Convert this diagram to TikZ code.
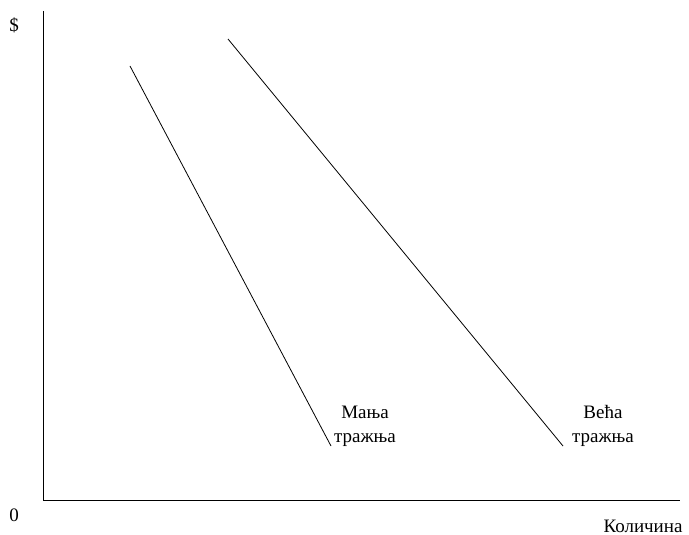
\documentclass[tikz,border=0pt]{standalone}
\usepackage{fontspec}
\setmainfont{Liberation Serif}
\begin{document}
\begin{tikzpicture}[x=1pt,y=-1pt,
  axis/.style={draw=black,line width=0.9pt},
  curve/.style={draw=black,line width=0.8pt},
  lbl/.style={font=\fontsize{19}{24}\selectfont,inner sep=0pt,align=center}]
\useasboundingbox (0,0) rectangle (689,535);
\coordinate (ytop) at (43,11);
\coordinate (orig) at (43,500);
\coordinate (xend) at (680,500);
\draw[axis] (ytop) -- (orig) -- (xend);
\node[lbl] (dollar) at (14,25) {\$};
\node[lbl] (zero) at (14,515) {0};
\node[lbl] (qty) at (643,526) {Количина};
\coordinate (a1) at (130,66);
\coordinate (a2) at (331,446);
\coordinate (b1) at (228,39);
\coordinate (b2) at (563,446);
\draw[curve] (a1) -- (a2);
\draw[curve] (b1) -- (b2);
\node[lbl] (less) at (365,426) {Мања\\тражња};
\node[lbl] (more) at (603,426) {Већа\\тражња};
\end{tikzpicture}
\end{document}
